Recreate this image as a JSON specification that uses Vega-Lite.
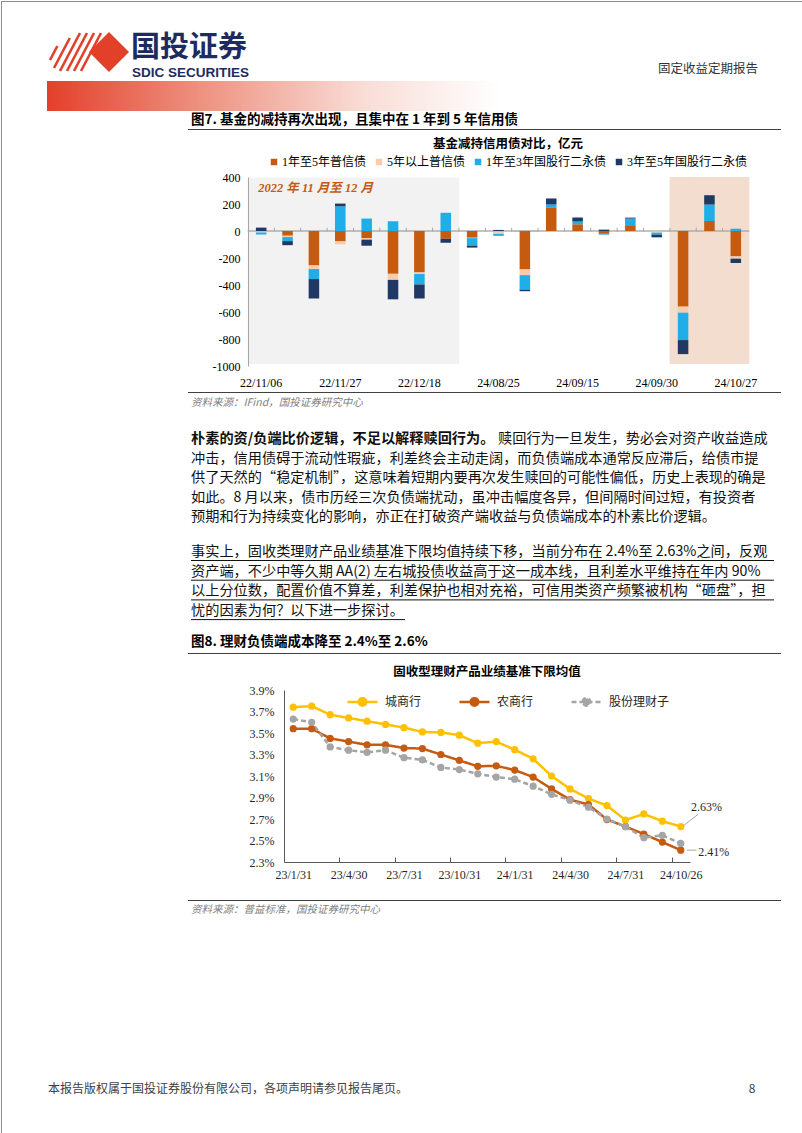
{
"$schema":"https://vega.github.io/schema/vega-lite/v6.json",
"background":"white",
"padding":0,
"spacing":0,
"bounds":"flush",
"resolve":{"scale":{"color":"independent","strokeDash":"independent","x":"independent","y":"independent"},"legend":{"color":"independent","strokeDash":"independent"}},
"config":{"view":{"stroke":null},"font":"Noto Sans CJK SC","concat":{"spacing":0},"legend":{"padding":0},"axis":{"labelOverlap":false}},
"vconcat":[
{"width":802,"height":176,"data":{"values":[{}]},"layer":[
 {"mark":{"type":"rule","color":"#8C8C8C"},"encoding":{"x":{"datum":0,"type":"quantitative","scale":{"domain":[0,802],"nice":false,"zero":false},"axis":null},"x2":{"datum":802},"y":{"datum":0.5,"type":"quantitative","scale":{"domain":[0,176],"nice":false,"zero":false,"reverse":true},"axis":null}}},
 {"mark":{"type":"rule","color":"#8C8C8C"},"encoding":{"x":{"datum":0,"type":"quantitative","scale":{"domain":[0,802],"nice":false,"zero":false},"axis":null},"x2":{"datum":802},"y":{"datum":1132.5,"type":"quantitative","scale":{"domain":[0,176],"nice":false,"zero":false,"reverse":true},"axis":null}}},
 {"mark":{"type":"rule","color":"#8C8C8C"},"encoding":{"x":{"datum":0.5,"type":"quantitative","scale":{"domain":[0,802],"nice":false,"zero":false},"axis":null},"y":{"datum":0,"type":"quantitative","scale":{"domain":[0,176],"nice":false,"zero":false,"reverse":true},"axis":null},"y2":{"datum":1133}}},
 {"mark":{"type":"rule","color":"#8C8C8C"},"encoding":{"x":{"datum":801.5,"type":"quantitative","scale":{"domain":[0,802],"nice":false,"zero":false},"axis":null},"y":{"datum":0,"type":"quantitative","scale":{"domain":[0,176],"nice":false,"zero":false,"reverse":true},"axis":null},"y2":{"datum":1133}}},
 {"mark":{"type":"rect","color":{"gradient":"linear","x1":0,"y1":0,"x2":1,"y2":0,"stops":[{"offset":0,"color":"#E3402A"},{"offset":0.35,"color":"#EE9483"},{"offset":0.7,"color":"#F9DDD6"},{"offset":1,"color":"#FFFFFF"}]}},"encoding":{"x":{"datum":46,"type":"quantitative","scale":{"domain":[0,802],"nice":false,"zero":false},"axis":null},"x2":{"datum":500},"y":{"datum":80,"type":"quantitative","scale":{"domain":[0,176],"nice":false,"zero":false,"reverse":true},"axis":null},"y2":{"datum":110}}},
 {"mark":{"type":"rule","color":"#E3402A","strokeWidth":2.6},"encoding":{"x":{"datum":49,"type":"quantitative","scale":{"domain":[0,802],"nice":false,"zero":false},"axis":null},"x2":{"datum":56.4},"y":{"datum":59,"type":"quantitative","scale":{"domain":[0,176],"nice":false,"zero":false,"reverse":true},"axis":null},"y2":{"datum":45}}},
 {"mark":{"type":"rule","color":"#E3402A","strokeWidth":2.6},"encoding":{"x":{"datum":53,"type":"quantitative","scale":{"domain":[0,802],"nice":false,"zero":false},"axis":null},"x2":{"datum":68.8},"y":{"datum":67,"type":"quantitative","scale":{"domain":[0,176],"nice":false,"zero":false,"reverse":true},"axis":null},"y2":{"datum":37}}},
 {"mark":{"type":"rule","color":"#E3402A","strokeWidth":2.6},"encoding":{"x":{"datum":59,"type":"quantitative","scale":{"domain":[0,802],"nice":false,"zero":false},"axis":null},"x2":{"datum":79},"y":{"datum":70,"type":"quantitative","scale":{"domain":[0,176],"nice":false,"zero":false,"reverse":true},"axis":null},"y2":{"datum":32}}},
 {"mark":{"type":"rule","color":"#E3402A","strokeWidth":2.6},"encoding":{"x":{"datum":66,"type":"quantitative","scale":{"domain":[0,802],"nice":false,"zero":false},"axis":null},"x2":{"datum":86},"y":{"datum":70,"type":"quantitative","scale":{"domain":[0,176],"nice":false,"zero":false,"reverse":true},"axis":null},"y2":{"datum":32}}},
 {"mark":{"type":"rule","color":"#E3402A","strokeWidth":2.6},"encoding":{"x":{"datum":73,"type":"quantitative","scale":{"domain":[0,802],"nice":false,"zero":false},"axis":null},"x2":{"datum":93},"y":{"datum":70,"type":"quantitative","scale":{"domain":[0,176],"nice":false,"zero":false,"reverse":true},"axis":null},"y2":{"datum":32}}},
 {"mark":{"type":"rule","color":"#E3402A","strokeWidth":2.6},"encoding":{"x":{"datum":80,"type":"quantitative","scale":{"domain":[0,802],"nice":false,"zero":false},"axis":null},"x2":{"datum":100},"y":{"datum":70,"type":"quantitative","scale":{"domain":[0,176],"nice":false,"zero":false,"reverse":true},"axis":null},"y2":{"datum":32}}},
 {"mark":{"type":"point","shape":"diamond","filled":true,"size":1600,"color":"#E3402A","opacity":1},"encoding":{"x":{"datum":108,"type":"quantitative","scale":{"domain":[0,802],"nice":false,"zero":false},"axis":null},"y":{"datum":51,"type":"quantitative","scale":{"domain":[0,176],"nice":false,"zero":false,"reverse":true},"axis":null}}},
 {"mark":{"type":"text","text":"国投证券","font":"Noto Sans CJK SC","fontSize":29,"fontWeight":"bold","color":"#1E2B5F","align":"left","baseline":"alphabetic"},"encoding":{"x":{"datum":130,"type":"quantitative","scale":{"domain":[0,802],"nice":false,"zero":false},"axis":null},"y":{"datum":56,"type":"quantitative","scale":{"domain":[0,176],"nice":false,"zero":false,"reverse":true},"axis":null}}},
 {"mark":{"type":"text","text":"SDIC SECURITIES","font":"Liberation Sans","fontSize":13.5,"fontWeight":"bold","color":"#1E2B5F","align":"left","baseline":"alphabetic"},"encoding":{"x":{"datum":131,"type":"quantitative","scale":{"domain":[0,802],"nice":false,"zero":false},"axis":null},"y":{"datum":75.5,"type":"quantitative","scale":{"domain":[0,176],"nice":false,"zero":false,"reverse":true},"axis":null}}},
 {"mark":{"type":"text","text":"固定收益定期报告","font":"Noto Sans CJK SC","fontSize":12.5,"color":"#333333","align":"right","baseline":"alphabetic"},"encoding":{"x":{"datum":757,"type":"quantitative","scale":{"domain":[0,802],"nice":false,"zero":false},"axis":null},"y":{"datum":72,"type":"quantitative","scale":{"domain":[0,176],"nice":false,"zero":false,"reverse":true},"axis":null}}},
 {"mark":{"type":"text","text":"图7. 基金的减持再次出现，且集中在 1 年到 5 年信用债","font":"Noto Sans CJK SC","fontSize":13.5,"fontWeight":"bold","color":"#000000","align":"left","baseline":"alphabetic"},"encoding":{"x":{"datum":190,"type":"quantitative","scale":{"domain":[0,802],"nice":false,"zero":false},"axis":null},"y":{"datum":123,"type":"quantitative","scale":{"domain":[0,176],"nice":false,"zero":false,"reverse":true},"axis":null}}},
 {"mark":{"type":"rule","color":"#404040","strokeWidth":1},"encoding":{"x":{"datum":187,"type":"quantitative","scale":{"domain":[0,802],"nice":false,"zero":false},"axis":null},"x2":{"datum":780},"y":{"datum":128.5,"type":"quantitative","scale":{"domain":[0,176],"nice":false,"zero":false,"reverse":true},"axis":null}}},
 {"mark":{"type":"text","text":"基金减持信用债对比，亿元","font":"Noto Sans CJK SC","fontSize":12.5,"fontWeight":"bold","color":"#000000","align":"center","baseline":"alphabetic"},"encoding":{"x":{"datum":507,"type":"quantitative","scale":{"domain":[0,802],"nice":false,"zero":false},"axis":null},"y":{"datum":147,"type":"quantitative","scale":{"domain":[0,176],"nice":false,"zero":false,"reverse":true},"axis":null}}}
]},
{"width":802,"height":189,
  "resolve":{"scale":{"y":"independent"},"axis":{"y":"independent"}},
  "data":{"values":[
{"w":"22/11/06","1年至5年普信债":-3,"5年以上普信债":-8,"1年至3年国股行二永债":-15,"3年至5年国股行二永债":25},
{"w":"22/11/13","1年至5年普信债":-35,"5年以上普信债":-10,"1年至3年国股行二永债":-30,"3年至5年国股行二永债":-30},
{"w":"22/11/20","1年至5年普信债":-255,"5年以上普信债":-27,"1年至3年国股行二永债":-74,"3年至5年国股行二永债":-144},
{"w":"22/11/27","1年至5年普信债":-77,"5年以上普信债":-22,"1年至3年国股行二永债":183,"3年至5年国股行二永债":20},
{"w":"22/12/04","1年至5年普信债":-52,"5年以上普信债":-12,"1年至3年国股行二永债":92,"3年至5年国股行二永债":-45},
{"w":"22/12/11","1年至5年普信债":-317,"5年以上普信债":-45,"1年至3年国股行二永债":72,"3年至5年国股行二永债":-144},
{"w":"22/12/18","1年至5年普信债":-307,"5年以上普信债":-12,"1年至3年国股行二永债":-77,"3年至5年国股行二永债":-104},
{"w":"22/12/25","1年至5年普信债":-57,"5年以上普信债":0,"1年至3年国股行二永债":135,"3年至5年国股行二永债":-30},
{"w":"24/08/18","1年至5年普信债":-50,"5年以上普信债":-3,"1年至3年国股行二永债":-55,"3年至5年国股行二永债":-15},
{"w":"24/08/25","1年至5年普信债":-3,"5年以上普信债":-18,"1年至3年国股行二永债":-15,"3年至5年国股行二永债":8},
{"w":"24/09/01","1年至5年普信债":-285,"5年以上普信债":-42,"1年至3年国股行二永债":-107,"3年至5年国股行二永债":-12},
{"w":"24/09/08","1年至5年普信债":171,"5年以上普信债":0,"1年至3年国股行二永债":25,"3年至5年国股行二永债":45},
{"w":"24/09/15","1年至5年普信债":50,"5年以上普信债":0,"1年至3年国股行二永债":20,"3年至5年国股行二永债":30},
{"w":"24/09/22","1年至5年普信债":-15,"5年以上普信债":0,"1年至3年国股行二永债":-12,"3年至5年国股行二永债":10},
{"w":"24/09/27","1年至5年普信债":37,"5年以上普信债":0,"1年至3年国股行二永债":55,"3年至5年国股行二永债":7},
{"w":"24/09/30","1年至5年普信债":-2,"5年以上普信债":-10,"1年至3年国股行二永债":-15,"3年至5年国股行二永债":-20},
{"w":"24/10/13","1年至5年普信债":-560,"5年以上普信债":-45,"1年至3年国股行二永债":-203,"3年至5年国股行二永债":-104},
{"w":"24/10/20","1年至5年普信债":74,"5年以上普信债":0,"1年至3年国股行二永债":122,"3年至5年国股行二永债":69},
{"w":"24/10/27","1年至5年普信债":-188,"5年以上普信债":-17,"1年至3年国股行二永债":17,"3年至5年国股行二永债":-32}
  ]},
  "transform":[{"fold":["1年至5年普信债","5年以上普信债","1年至3年国股行二永债","3年至5年国股行二永债"],"as":["type","v"]},{"calculate":"indexof(['1年至5年普信债','5年以上普信债','1年至3年国股行二永债','3年至5年国股行二永债'], datum.type)","as":"k"}],
  "layer":[
   {"transform":[{"filter":{"and":[{"field":"k","equal":0},{"field":"w","oneOf":["22/11/06","22/11/13","22/11/20","22/11/27","22/12/04","22/12/11","22/12/18","22/12/25"]}]}}],
    "mark":{"type":"bar","color":"#F2F2F2","width":{"band":2.56}},
    "encoding":{"x":{"field":"w","type":"nominal","title":null,"scale":{"domain":["22/11/06","22/11/13","22/11/20","22/11/27","22/12/04","22/12/11","22/12/18","22/12/25","24/08/18","24/08/25","24/09/01","24/09/08","24/09/15","24/09/22","24/09/27","24/09/30","24/10/13","24/10/20","24/10/27"],"range":[247,748],"paddingInner":0.6,"paddingOuter":0.3}},
     "y":{"datum":395,"type":"quantitative","title":null,"axis":null,"scale":{"domain":[-1000,400],"nice":false,"zero":false}},"y2":{"datum":-985}}},
   {"transform":[{"filter":{"and":[{"field":"k","equal":0},{"field":"w","oneOf":["24/10/13","24/10/20","24/10/27"]}]}}],
    "mark":{"type":"bar","color":"#F3DDCE","width":{"band":2.56}},
    "encoding":{"x":{"field":"w","type":"nominal","title":null,"scale":{"domain":["22/11/06","22/11/13","22/11/20","22/11/27","22/12/04","22/12/11","22/12/18","22/12/25","24/08/18","24/08/25","24/09/01","24/09/08","24/09/15","24/09/22","24/09/27","24/09/30","24/10/13","24/10/20","24/10/27"],"range":[247,748],"paddingInner":0.6,"paddingOuter":0.3}},
     "y":{"datum":400,"type":"quantitative","title":null,"axis":null,"scale":{"domain":[-1000,400],"nice":false,"zero":false}},"y2":{"datum":-985}}},
   {"transform":[{"filter":"datum.k == 0"}],
    "mark":{"type":"bar","color":"#A6A6A6","width":{"band":2.56}},
    "encoding":{"x":{"field":"w","type":"nominal","title":null,"scale":{"domain":["22/11/06","22/11/13","22/11/20","22/11/27","22/12/04","22/12/11","22/12/18","22/12/25","24/08/18","24/08/25","24/09/01","24/09/08","24/09/15","24/09/22","24/09/27","24/09/30","24/10/13","24/10/20","24/10/27"],"range":[247,748],"paddingInner":0.6,"paddingOuter":0.3}},
     "y":{"datum":5,"type":"quantitative","title":null,"axis":null,"scale":{"domain":[-1000,400],"nice":false,"zero":false}},"y2":{"datum":-5}}},
   {"mark":{"type":"bar"},
    "encoding":{
     "x":{"field":"w","type":"nominal","title":null,"scale":{"domain":["22/11/06","22/11/13","22/11/20","22/11/27","22/12/04","22/12/11","22/12/18","22/12/25","24/08/18","24/08/25","24/09/01","24/09/08","24/09/15","24/09/22","24/09/27","24/09/30","24/10/13","24/10/20","24/10/27"],"range":[247,748],"paddingInner":0.6,"paddingOuter":0.3},
      "axis":{"bandPosition":0.5,"labelAlign":"center","labelBaseline":"top","labelExpr":"indexof(['22/11/06','22/11/27','22/12/18','24/08/25','24/09/15','24/09/30','24/10/27'], datum.value) >= 0 ? datum.value : ''","domain":false,"ticks":false,"labelAngle":0,"labelFont":"Liberation Serif","labelFontSize":12,"labelColor":"#000000","labelPadding":11,"labelOverlap":false}},
     "y":{"field":"v","type":"quantitative","stack":"zero","title":null,"scale":{"domain":[-1000,400],"nice":false,"zero":false},
      "axis":{"orient":"left","values":[-1000,-800,-600,-400,-200,0,200,400],"labelExpr":"(datum.value < 0 ? '-' : '') + abs(datum.value)","labelOverlap":false,"zindex":1,"offset":-247,"labelFont":"Liberation Serif","labelFontSize":12,"labelColor":"#000000","domainColor":"#A6A6A6","ticks":false,"grid":false,"labelPadding":8}},
     "color":{"field":"type","type":"nominal","scale":{"domain":["1年至5年普信债","5年以上普信债","1年至3年国股行二永债","3年至5年国股行二永债"],"range":["#C55A11","#F8CBAD","#1FAEE8","#1F3864"]},
      "legend":{"orient":"none","legendX":267,"legendY":-21,"direction":"horizontal","title":null,"symbolType":"square","symbolSize":42,"symbolStrokeWidth":0,"labelFont":"Liberation Serif, Noto Sans CJK SC","labelFontSize":12,"labelColor":"#000000","columnPadding":6,"labelOffset":2,"padding":0}},
     "order":{"field":"k","type":"quantitative"}}},
   {"transform":[{"filter":"datum.k == 0 && datum.w != '24/10/27'"}],
    "mark":{"type":"rule","color":"#A6A6A6","strokeWidth":1},
    "encoding":{"x":{"field":"w","type":"nominal","title":null,"bandPosition":1.75,"scale":{"domain":["22/11/06","22/11/13","22/11/20","22/11/27","22/12/04","22/12/11","22/12/18","22/12/25","24/08/18","24/08/25","24/09/01","24/09/08","24/09/15","24/09/22","24/09/27","24/09/30","24/10/13","24/10/20","24/10/27"],"range":[247,748],"paddingInner":0.6,"paddingOuter":0.3}},
     "y":{"datum":0,"type":"quantitative","title":null,"axis":null,"scale":{"domain":[-1000,400],"nice":false,"zero":false}},"y2":{"datum":24}}},
   {"transform":[{"filter":"datum.k == 0 && datum.w == '22/11/06'"}],
    "mark":{"type":"text","text":"2022 年 11 月至 12 月","font":"Liberation Serif, Noto Sans CJK SC","fontSize":12.5,"fontStyle":"italic","fontWeight":"bold","color":"#C55A11","align":"left","baseline":"middle","dx":-3},
    "encoding":{"x":{"field":"w","type":"nominal","title":null,"scale":{"domain":["22/11/06","22/11/13","22/11/20","22/11/27","22/12/04","22/12/11","22/12/18","22/12/25","24/08/18","24/08/25","24/09/01","24/09/08","24/09/15","24/09/22","24/09/27","24/09/30","24/10/13","24/10/20","24/10/27"],"range":[247,748],"paddingInner":0.6,"paddingOuter":0.3}},
     "y":{"datum":318,"type":"quantitative","title":null,"axis":null,"scale":{"domain":[-1000,400],"nice":false,"zero":false}}}}
  ]},
{"width":802,"height":324,"data":{"values":[{}]},"layer":[
 {"mark":{"type":"rule","color":"#404040","strokeWidth":1},"encoding":{"x":{"datum":187,"type":"quantitative","scale":{"domain":[0,802],"nice":false,"zero":false},"axis":null},"x2":{"datum":780},"y":{"datum":391.5,"type":"quantitative","scale":{"domain":[365,689],"nice":false,"zero":false,"reverse":true},"axis":null}}},
 {"mark":{"type":"text","text":"资料来源：IFind，国投证券研究中心","font":"Noto Sans CJK SC","fontSize":10.5,"fontStyle":"italic","color":"#7F7F7F","align":"left","baseline":"alphabetic"},"encoding":{"x":{"datum":190,"type":"quantitative","scale":{"domain":[0,802],"nice":false,"zero":false},"axis":null},"y":{"datum":405,"type":"quantitative","scale":{"domain":[365,689],"nice":false,"zero":false,"reverse":true},"axis":null}}},
 {"mark":{"type":"text","text":"朴素的资/负端比价逻辑，不足以解释赎回行为。","font":"Noto Sans CJK SC","fontSize":14.2,"fontWeight":"bold","color":"#111111","align":"left","baseline":"alphabetic"},"encoding":{"x":{"datum":190,"type":"quantitative","scale":{"domain":[0,802],"nice":false,"zero":false},"axis":null},"y":{"datum":442,"type":"quantitative","scale":{"domain":[365,689],"nice":false,"zero":false,"reverse":true},"axis":null}}},
 {"mark":{"type":"text","text":"赎回行为一旦发生，势必会对资产收益造成","font":"Noto Sans CJK SC","fontSize":14.2,"color":"#111111","align":"left","baseline":"alphabetic"},"encoding":{"x":{"datum":497,"type":"quantitative","scale":{"domain":[0,802],"nice":false,"zero":false},"axis":null},"y":{"datum":442,"type":"quantitative","scale":{"domain":[365,689],"nice":false,"zero":false,"reverse":true},"axis":null}}},
 {"mark":{"type":"text","text":["冲击，信用债碍于流动性瑕疵，利差终会主动走阔，而负债端成本通常反应滞后，给债市提","供了天然的“稳定机制”，这意味着短期内要再次发生赎回的可能性偏低，历史上表现的确是","如此。8 月以来，债市历经三次负债端扰动，虽冲击幅度各异，但间隔时间过短，有投资者","预期和行为持续变化的影响，亦正在打破资产端收益与负债端成本的朴素比价逻辑。"],"lineHeight":19.25,"font":"Noto Sans CJK SC","fontSize":14.2,"color":"#111111","align":"left","baseline":"alphabetic"},"encoding":{"x":{"datum":190,"type":"quantitative","scale":{"domain":[0,802],"nice":false,"zero":false},"axis":null},"y":{"datum":462,"type":"quantitative","scale":{"domain":[365,689],"nice":false,"zero":false,"reverse":true},"axis":null}}},
 {"mark":{"type":"text","text":["事实上，固收类理财产品业绩基准下限均值持续下移，当前分布在 2.4%至 2.63%之间，反观","资产端，不少中等久期 AA(2) 左右城投债收益高于这一成本线，且利差水平维持在年内 90%","以上分位数，配置价值不算差，利差保护也相对充裕，可信用类资产频繁被机构“砸盘”，担","忧的因素为何？以下进一步探讨。"],"lineHeight":19.7,"font":"Noto Sans CJK SC","fontSize":14.2,"color":"#111111","align":"left","baseline":"alphabetic"},"encoding":{"x":{"datum":190,"type":"quantitative","scale":{"domain":[0,802],"nice":false,"zero":false},"axis":null},"y":{"datum":555,"type":"quantitative","scale":{"domain":[365,689],"nice":false,"zero":false,"reverse":true},"axis":null}}},
 {"mark":{"type":"rule","color":"#111111","strokeWidth":1},"encoding":{"x":{"datum":190,"type":"quantitative","scale":{"domain":[0,802],"nice":false,"zero":false},"axis":null},"x2":{"datum":773},"y":{"datum":559.5,"type":"quantitative","scale":{"domain":[365,689],"nice":false,"zero":false,"reverse":true},"axis":null}}},
 {"mark":{"type":"rule","color":"#111111","strokeWidth":1},"encoding":{"x":{"datum":190,"type":"quantitative","scale":{"domain":[0,802],"nice":false,"zero":false},"axis":null},"x2":{"datum":773},"y":{"datum":579.2,"type":"quantitative","scale":{"domain":[365,689],"nice":false,"zero":false,"reverse":true},"axis":null}}},
 {"mark":{"type":"rule","color":"#111111","strokeWidth":1},"encoding":{"x":{"datum":190,"type":"quantitative","scale":{"domain":[0,802],"nice":false,"zero":false},"axis":null},"x2":{"datum":773},"y":{"datum":598.9,"type":"quantitative","scale":{"domain":[365,689],"nice":false,"zero":false,"reverse":true},"axis":null}}},
 {"mark":{"type":"rule","color":"#111111","strokeWidth":1},"encoding":{"x":{"datum":190,"type":"quantitative","scale":{"domain":[0,802],"nice":false,"zero":false},"axis":null},"x2":{"datum":404},"y":{"datum":618.6,"type":"quantitative","scale":{"domain":[365,689],"nice":false,"zero":false,"reverse":true},"axis":null}}},
 {"mark":{"type":"text","text":"图8. 理财负债端成本降至 2.4%至 2.6%","font":"Noto Sans CJK SC","fontSize":13.5,"fontWeight":"bold","color":"#000000","align":"left","baseline":"alphabetic"},"encoding":{"x":{"datum":190,"type":"quantitative","scale":{"domain":[0,802],"nice":false,"zero":false},"axis":null},"y":{"datum":645,"type":"quantitative","scale":{"domain":[365,689],"nice":false,"zero":false,"reverse":true},"axis":null}}},
 {"mark":{"type":"rule","color":"#404040","strokeWidth":1},"encoding":{"x":{"datum":187,"type":"quantitative","scale":{"domain":[0,802],"nice":false,"zero":false},"axis":null},"x2":{"datum":780},"y":{"datum":652.5,"type":"quantitative","scale":{"domain":[365,689],"nice":false,"zero":false,"reverse":true},"axis":null}}},
 {"mark":{"type":"text","text":"固收型理财产品业绩基准下限均值","font":"Noto Sans CJK SC","fontSize":12.5,"fontWeight":"bold","color":"#000000","align":"center","baseline":"alphabetic"},"encoding":{"x":{"datum":486,"type":"quantitative","scale":{"domain":[0,802],"nice":false,"zero":false},"axis":null},"y":{"datum":675,"type":"quantitative","scale":{"domain":[365,689],"nice":false,"zero":false,"reverse":true},"axis":null}}}
]},
{"width":802,"height":172,
 "resolve":{"scale":{"x":"independent","y":"independent"},"axis":{"x":"independent","y":"independent"}},
 "layer":[
  {"data":{"values":[
{"i":1,"d":"23/1/31","城商行":3.74,"农商行":3.54,"股份理财子":3.63},
{"i":2,"d":"23/2/28","城商行":3.75,"农商行":3.54,"股份理财子":3.60},
{"i":3,"d":"23/3/31","城商行":3.67,"农商行":3.45,"股份理财子":3.37},
{"i":4,"d":"23/4/30","城商行":3.64,"农商行":3.42,"股份理财子":3.34},
{"i":5,"d":"23/5/31","城商行":3.61,"农商行":3.39,"股份理财子":3.32},
{"i":6,"d":"23/6/30","城商行":3.58,"农商行":3.39,"股份理财子":3.34},
{"i":7,"d":"23/7/31","城商行":3.55,"农商行":3.36,"股份理财子":3.27},
{"i":8,"d":"23/8/31","城商行":3.51,"农商行":3.355,"股份理财子":3.25},
{"i":9,"d":"23/9/30","城商行":3.505,"农商行":3.30,"股份理财子":3.18},
{"i":10,"d":"23/10/31","城商行":3.48,"农商行":3.245,"股份理财子":3.16},
{"i":11,"d":"23/11/30","城商行":3.405,"农商行":3.19,"股份理财子":3.12},
{"i":12,"d":"23/12/31","城商行":3.42,"农商行":3.195,"股份理财子":3.09},
{"i":13,"d":"24/1/31","城商行":3.345,"农商行":3.155,"股份理财子":3.07},
{"i":14,"d":"24/2/29","城商行":3.26,"农商行":3.09,"股份理财子":3.005},
{"i":15,"d":"24/3/31","城商行":3.10,"农商行":2.98,"股份理财子":2.93},
{"i":16,"d":"24/4/30","城商行":2.98,"农商行":2.88,"股份理财子":2.875},
{"i":17,"d":"24/5/31","城商行":2.89,"农商行":2.835,"股份理财子":2.81},
{"i":18,"d":"24/6/30","城商行":2.825,"农商行":2.695,"股份理财子":2.70},
{"i":19,"d":"24/7/31","城商行":2.69,"农商行":2.63,"股份理财子":2.63},
{"i":20,"d":"24/8/31","城商行":2.747,"农商行":2.56,"股份理财子":2.526},
{"i":21,"d":"24/9/30","城商行":2.68,"农商行":2.485,"股份理财子":2.548},
{"i":22,"d":"24/10/26","城商行":2.63,"农商行":2.41,"股份理财子":2.473}
  ]},
   "transform":[{"fold":["城商行","农商行","股份理财子"],"as":["s","v"]}],
   "mark":{"type":"line","strokeWidth":2.5,"point":{"filled":true,"size":52}},
   "encoding":{
    "x":{"field":"i","type":"quantitative","title":null,"scale":{"domain":[0.5,22.5],"range":[283,689],"nice":false,"zero":false},
     "axis":{"orient":"bottom","values":[1,3.5,4,6.5,7,9.5,10,12.5,13,15.5,16,18.5,19,21.5,22],"labelExpr":"datum.value % 1 == 0 ? ['23/1/31','23/4/30','23/7/31','23/10/31','24/1/31','24/4/30','24/7/31','24/10/26'][(datum.value - 1) / 3] : ''","tickOpacity":{"condition":{"test":"datum.value % 1 != 0","value":1},"value":0},"tickSize":-5,"tickColor":"#595959","domainColor":"#595959","grid":false,"labelFont":"Liberation Serif","labelFontSize":12,"labelColor":"#262626","labelPadding":12,"labelFlush":false,"labelOverlap":false}},
    "y":{"field":"v","type":"quantitative","title":null,"scale":{"domain":[2.3,3.9],"nice":false,"zero":false},
     "axis":{"orient":"left","values":[2.3,2.5,2.7,2.9,3.1,3.3,3.5,3.7,3.9],"offset":-283,"labelOverlap":false,"labelExpr":"format(datum.value, '.1f') + '%'","domainColor":"#595959","ticks":false,"grid":false,"labelFont":"Liberation Serif","labelFontSize":12,"labelColor":"#262626","labelPadding":10}},
    "color":{"field":"s","type":"nominal","scale":{"domain":["城商行","农商行","股份理财子"],"range":["#FFC000","#C55A11","#A5A5A5"]},
     "legend":{"orient":"none","legendX":345,"legendY":-5,"direction":"horizontal","title":null,"symbolType":"M-1,0L1,0M-0.25,0A0.25,0.25,0,1,1,0.25,0A0.25,0.25,0,1,1,-0.25,0","symbolSize":900,"symbolStrokeWidth":2.5,"labelFont":"Liberation Serif, Noto Sans CJK SC","labelFontSize":12,"labelColor":"#262626","columnPadding":32,"labelOffset":6,"padding":0}},
    "strokeDash":{"field":"s","type":"nominal","scale":{"domain":["城商行","农商行","股份理财子"],"range":[[1,0],[1,0],[5,3]]},
     "legend":{"orient":"none","legendX":345,"legendY":-5,"direction":"horizontal","title":null,"symbolType":"M-1,0L1,0M-0.25,0A0.25,0.25,0,1,1,0.25,0A0.25,0.25,0,1,1,-0.25,0","symbolSize":900,"symbolStrokeWidth":2.5,"labelFont":"Liberation Serif, Noto Sans CJK SC","labelFontSize":12,"labelColor":"#262626","columnPadding":32,"labelOffset":6,"padding":0}}
   }},
  {"data":{"values":[{}]},"mark":{"type":"rule","color":"#A6A6A6","strokeWidth":1},"encoding":{"x":{"datum":22.13,"type":"quantitative","title":null,"axis":null,"scale":{"domain":[0.5,22.5],"range":[283,689],"nice":false,"zero":false}},"x2":{"datum":22.94},"y":{"datum":2.635,"type":"quantitative","title":null,"axis":null,"scale":{"domain":[2.3,3.9],"nice":false,"zero":false}},"y2":{"datum":2.744}}},
  {"data":{"values":[{}]},"mark":{"type":"rule","color":"#A6A6A6","strokeWidth":1},"encoding":{"x":{"datum":22.34,"type":"quantitative","title":null,"axis":null,"scale":{"domain":[0.5,22.5],"range":[283,689],"nice":false,"zero":false}},"x2":{"datum":22.85},"y":{"datum":2.41,"type":"quantitative","title":null,"axis":null,"scale":{"domain":[2.3,3.9],"nice":false,"zero":false}},"y2":{"datum":2.41}}},
  {"data":{"values":[{}]},"mark":{"type":"text","text":"2.63%","font":"Liberation Serif","fontSize":12,"color":"#262626","align":"left","baseline":"middle"},"encoding":{"x":{"datum":22.55,"type":"quantitative","title":null,"axis":null,"scale":{"domain":[0.5,22.5],"range":[283,689],"nice":false,"zero":false}},"y":{"datum":2.815,"type":"quantitative","title":null,"axis":null,"scale":{"domain":[2.3,3.9],"nice":false,"zero":false}}}},
  {"data":{"values":[{}]},"mark":{"type":"text","text":"2.41%","font":"Liberation Serif","fontSize":12,"color":"#262626","align":"left","baseline":"middle"},"encoding":{"x":{"datum":22.95,"type":"quantitative","title":null,"axis":null,"scale":{"domain":[0.5,22.5],"range":[283,689],"nice":false,"zero":false}},"y":{"datum":2.395,"type":"quantitative","title":null,"axis":null,"scale":{"domain":[2.3,3.9],"nice":false,"zero":false}}}}
 ]},
{"width":802,"height":272,"data":{"values":[{}]},"layer":[
 {"mark":{"type":"rule","color":"#404040","strokeWidth":1},"encoding":{"x":{"datum":187,"type":"quantitative","scale":{"domain":[0,802],"nice":false,"zero":false},"axis":null},"x2":{"datum":780},"y":{"datum":899.5,"type":"quantitative","scale":{"domain":[861,1133],"nice":false,"zero":false,"reverse":true},"axis":null}}},
 {"mark":{"type":"text","text":"资料来源：普益标准，国投证券研究中心","font":"Noto Sans CJK SC","fontSize":10.5,"fontStyle":"italic","color":"#7F7F7F","align":"left","baseline":"alphabetic"},"encoding":{"x":{"datum":190,"type":"quantitative","scale":{"domain":[0,802],"nice":false,"zero":false},"axis":null},"y":{"datum":912,"type":"quantitative","scale":{"domain":[861,1133],"nice":false,"zero":false,"reverse":true},"axis":null}}},
 {"mark":{"type":"text","text":"本报告版权属于国投证券股份有限公司，各项声明请参见报告尾页。","font":"Noto Sans CJK SC","fontSize":12,"color":"#404040","align":"left","baseline":"alphabetic"},"encoding":{"x":{"datum":47,"type":"quantitative","scale":{"domain":[0,802],"nice":false,"zero":false},"axis":null},"y":{"datum":1092,"type":"quantitative","scale":{"domain":[861,1133],"nice":false,"zero":false,"reverse":true},"axis":null}}},
 {"mark":{"type":"text","text":"8","font":"Noto Sans CJK SC","fontSize":12,"color":"#404040","align":"center","baseline":"alphabetic"},"encoding":{"x":{"datum":751,"type":"quantitative","scale":{"domain":[0,802],"nice":false,"zero":false},"axis":null},"y":{"datum":1092,"type":"quantitative","scale":{"domain":[861,1133],"nice":false,"zero":false,"reverse":true},"axis":null}}}
]}
]
}
